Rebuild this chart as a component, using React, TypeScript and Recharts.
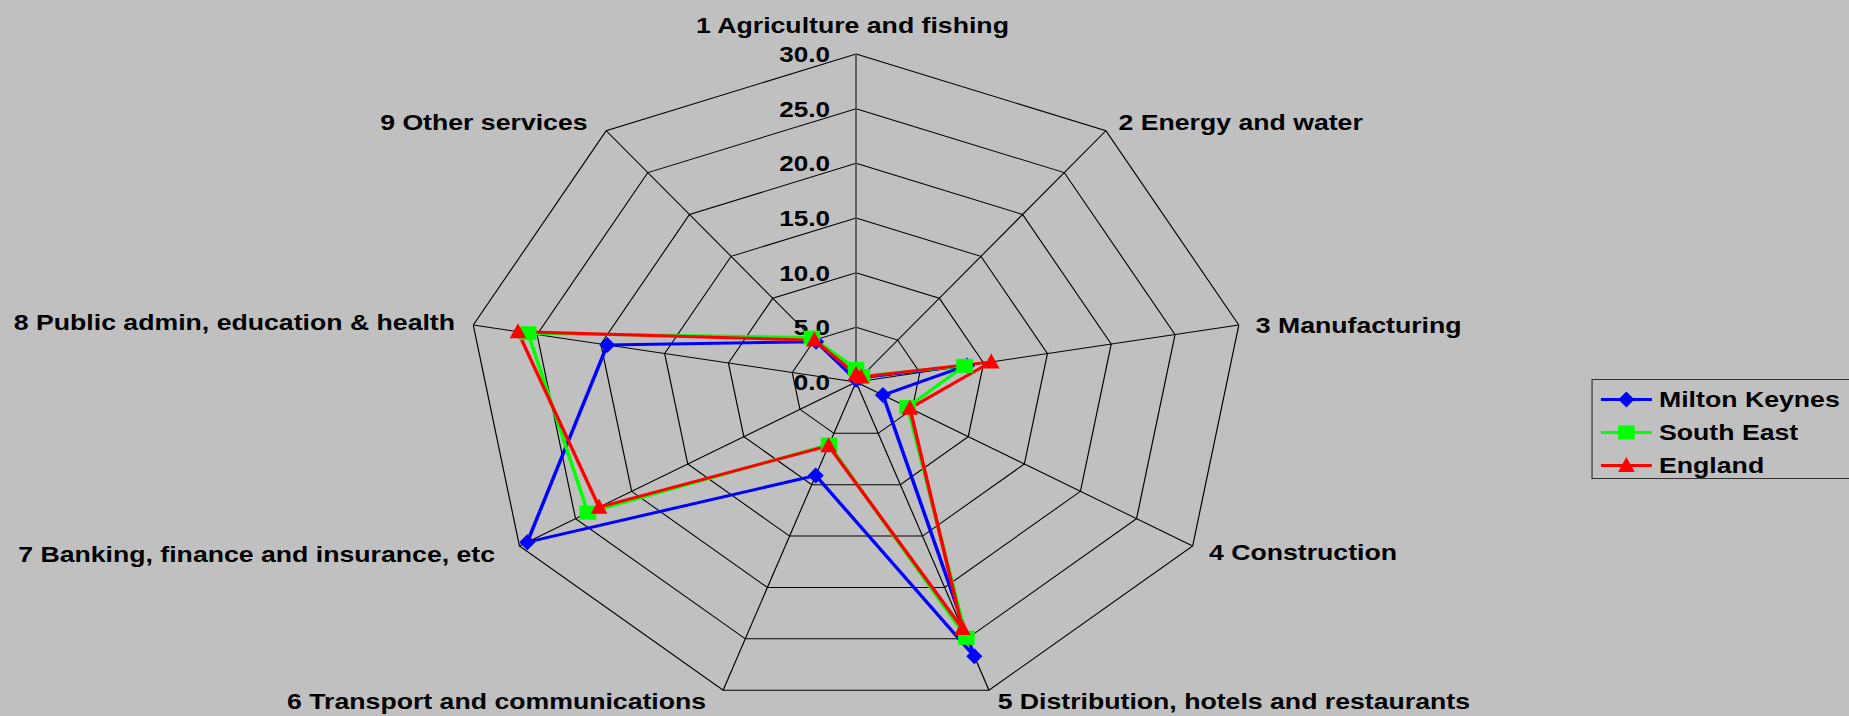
import React from 'react'
import { RadarChart, Radar, PolarGrid, PolarAngleAxis, PolarRadiusAxis, Legend } from 'recharts'

const CATEGORIES = [
  '1 Agriculture and fishing',
  '2 Energy and water',
  '3 Manufacturing',
  '4 Construction',
  '5 Distribution, hotels and restaurants',
  '6 Transport and communications',
  '7 Banking, finance and insurance, etc',
  '8 Public admin, education & health',
  '9 Other services',
]
const MILTON_KEYNES = [0.2, 0.5, 8.7, 2.4, 26.7, 9.1, 29.3, 19.5, 4.8]
const SOUTH_EAST = [1.2, 0.7, 8.5, 4.6, 24.9, 6.1, 23.9, 25.7, 5.3]
const ENGLAND = [0.7, 0.6, 10.6, 4.8, 24.0, 6.2, 22.9, 26.5, 5.0]
const SERIES_NAMES = ['Milton Keynes', 'South East', 'England']
const SERIES_KEYS = ['mk', 'se', 'eng']
const COLORS = ['#0000ff', '#00ff00', '#ff0000']
const RADIUS_DOMAIN = [0, 30]

// the original picture is stretched sideways, so the whole chart is drawn narrow and scaled
const STRETCH = 1.185
const W = 1560
const H = 716
const CX = 722.4
const CY = 382
const R = 328
const FONT = '"Liberation Sans", Arial, sans-serif'
const FS = 22.5

// offset of each category label from its spoke end: dx, baseline dy, anchor
const LABEL_POS: [number, number, string][] = [
  [-3, -21, 'middle'],
  [10.6, -1, 'start'],
  [14.3, 8, 'start'],
  [13.8, 14, 'start'],
  [7.3, 19, 'start'],
  [-14.3, 19, 'end'],
  [-20.6, 16, 'end'],
  [-15.4, 5, 'end'],
  [-15.7, -1, 'end'],
]

const data = CATEGORIES.map((c, i) => ({
  category: c,
  mk: MILTON_KEYNES[i],
  se: SOUTH_EAST[i],
  eng: ENGLAND[i],
}))

function marker(series: number, cx: number, cy: number, key?: string) {
  const color = COLORS[series]
  if (series === 0) {
    return <polygon key={key} points={`${cx},${cy - 8} ${cx + 6.8},${cy} ${cx},${cy + 8} ${cx - 6.8},${cy}`} fill={color} />
  }
  if (series === 1) {
    return <rect key={key} x={cx - 7} y={cy - 7} width={14} height={14} fill={color} />
  }
  return <polygon key={key} points={`${cx},${cy - 8.5} ${cx + 7},${cy + 6.5} ${cx - 7},${cy + 6.5}`} fill={color} />
}

const makeDot = (series: number) => (p: any) => marker(series, p.cx, p.cy, `dot-${series}-${p.index}`)

function AngleTick(props: any) {
  const i = CATEGORIES.indexOf(props.payload.value)
  const a = (i * 40 * Math.PI) / 180
  const vx = CX + R * Math.sin(a)
  const vy = CY - R * Math.cos(a)
  const [dx, dy, anchor] = LABEL_POS[i]
  return (
    <text x={vx + dx} y={vy + dy} textAnchor={anchor as any} fill="#000" fontFamily={FONT} fontWeight="bold" fontSize={FS}>
      {props.payload.value}
    </text>
  )
}

function RadiusTick(props: any) {
  return (
    <text x={props.x - 22} y={props.y + 8} textAnchor="end" fill="#000" fontFamily={FONT} fontWeight="bold" fontSize={22}>
      {Number(props.payload.value).toFixed(1)}
    </text>
  )
}

function LegendBox() {
  return (
    <div style={{
      border: '1px solid #333', background: '#c0c0c0', width: 240, height: 100, paddingTop: 3,
      boxSizing: 'border-box', fontFamily: FONT, fontWeight: 'bold', fontSize: FS, color: '#000',
    }}>
      {SERIES_NAMES.map((name, i) => (
        <div key={name} style={{ display: 'flex', alignItems: 'center', height: 33 }}>
          <svg width={56} height={33} style={{ display: 'block' }}>
            <line x1={7} x2={50} y1={16.5} y2={16.5} stroke={COLORS[i]} strokeWidth={3} />
            {marker(i, 28.5, 16.5)}
          </svg>
          <span style={{ lineHeight: '33px' }}>{name}</span>
        </div>
      ))}
    </div>
  )
}

export default function App() {
  return (
    <div style={{ position: 'absolute', left: 0, top: 0, width: 1849, height: 716, background: '#c0c0c0', overflow: 'hidden' }}>
      <div style={{ width: W, height: H, transform: `scaleX(${STRETCH})`, transformOrigin: '0 0' }}>
        <RadarChart width={W} height={H} data={data} cx={CX} cy={CY} outerRadius={R} margin={{ top: 0, right: 0, bottom: 0, left: 0 }}>
          <PolarGrid gridType="polygon" stroke="#000" strokeWidth={1} strokeOpacity={1} />
          <PolarAngleAxis dataKey="category" tick={<AngleTick />} tickLine={false} axisLine={false} />
          <PolarRadiusAxis
            angle={90} type="number" domain={RADIUS_DOMAIN} tickCount={7}
            tick={<RadiusTick />} tickLine={false} axisLine={{ stroke: '#666', strokeWidth: 1.3 }}
          />
          {SERIES_KEYS.map((k, i) => (
            <Radar
              key={k} name={SERIES_NAMES[i]} dataKey={k} stroke={COLORS[i]} strokeWidth={3}
              fill="none" fillOpacity={0} dot={makeDot(i)} activeDot={false} isAnimationActive={false}
            />
          ))}
          <Legend
            layout="vertical" align="right" verticalAlign="middle" content={<LegendBox />}
            wrapperStyle={{ position: 'absolute', left: 1343, top: 379, right: 'auto', width: 240, height: 100 }}
          />
        </RadarChart>
      </div>
    </div>
  )
}
